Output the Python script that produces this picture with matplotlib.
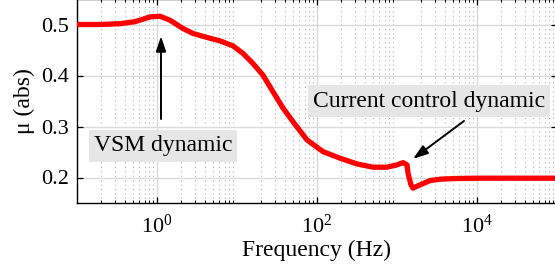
import matplotlib
matplotlib.use("Agg")
import matplotlib.pyplot as plt
from matplotlib.ticker import LogLocator, NullFormatter

freq = [0.1, 0.194, 0.345, 0.531, 0.818, 1.09, 1.454, 2.11, 2.82, 4.22, 6.13,
        8.91, 11.9, 15.8, 21.1, 28.2, 37.6, 50.1, 61.3, 75, 119, 194, 316,
        501, 750, 1000, 1189, 1334, 1373, 1496, 1585, 1939, 2586, 3447, 5309,
        10900, 1e5]
mu = [0.500, 0.500, 0.5016, 0.5055, 0.5149, 0.5162, 0.5084, 0.4922, 0.4824,
      0.4746, 0.4679, 0.4581, 0.4432, 0.4237, 0.4008, 0.3681, 0.3362, 0.3094,
      0.2915, 0.2736, 0.2507, 0.2378, 0.2266, 0.2202, 0.2202, 0.2247, 0.2292,
      0.2247, 0.2084, 0.1855, 0.1791, 0.1855, 0.1939, 0.1967, 0.1980, 0.1986,
      0.1986]

yticks = [0.2, 0.3, 0.4, 0.5]
xlabel = "Frequency (Hz)"
ylabel = "μ (abs)"
ann1 = "VSM dynamic"
ann2 = "Current control dynamic"

plt.rcParams['font.family'] = ['Liberation Serif', 'DejaVu Serif']
plt.rcParams['mathtext.fontset'] = 'stix'

fig = plt.figure(figsize=(5.55, 2.67), dpi=100)
ax = fig.add_axes([77/555, (267-203)/267, 480/555, 204/267])

ax.plot(freq, mu, color='#ff0000', lw=3.8, solid_capstyle='round',
        solid_joinstyle='round', zorder=3)
ax.set_xscale('log')
ax.set_xlim(1e-1, 1e5)
ax.set_ylim(0.15, 0.55)
ax.set_yticks(yticks)
ax.set_xticks([1e0, 1e2, 1e4])
ax.xaxis.set_minor_locator(LogLocator(base=10, subs=range(2, 10), numticks=100))
ax.xaxis.set_minor_formatter(NullFormatter())

ax.grid(True, which='major', color='#d9d9d9', lw=1.0, ls='-')
ax.grid(True, which='minor', axis='x', color='#b0b0b0', lw=0.8, ls=(0, (1, 3)))
ax.set_axisbelow(True)

ax.tick_params(which='both', direction='in', top=True, right=True,
               labelsize=16, color='black')
ax.tick_params(which='major', length=4, width=0.9, pad=6)
ax.tick_params(axis='x', which='major', pad=8)
ax.tick_params(which='minor', length=2.5, width=0.7)
for s in ax.spines.values():
    s.set_linewidth(1.0)

ax.set_xlabel(xlabel, fontsize=17, labelpad=2)
ax.set_ylabel(ylabel, fontsize=17, labelpad=4)

box = dict(boxstyle='square,pad=0.22', fc='#e6e6e6', ec='none')
ax.text(1.19, 0.262, ann1, fontsize=17, ha='center', va='center', bbox=box,
        zorder=4)
ax.text(2512, 0.35, ann2, fontsize=17, ha='center', va='center', bbox=box,
        zorder=4)

aprops = dict(arrowstyle='-|>,head_length=0.9,head_width=0.3', color='black',
              lw=1.4, mutation_scale=10, shrinkA=0, shrinkB=0)
ax.annotate('', xy=(1.122, 0.4771), xytext=(1.122, 0.3147), arrowprops=aprops,
            zorder=5)
ax.annotate('', xy=(1585, 0.2364), xytext=(6879, 0.3108), arrowprops=aprops,
            zorder=5)

fig.savefig('out.png', dpi=100)
